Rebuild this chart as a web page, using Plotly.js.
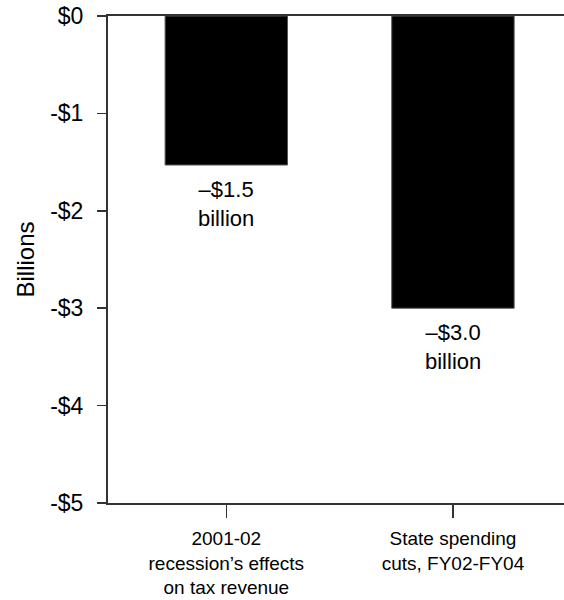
<!DOCTYPE html>
<html>
<head>
<meta charset="utf-8">
<script src="https://cdn.plot.ly/plotly-3.0.1.min.js"></script>
<style>html,body{margin:0;padding:0;background:#fff;}#chart{width:564px;height:600px;}</style>
</head>
<body>
<div id="chart"></div>
<script>
var categories = ["2001-02<br>recession\u2019s effects<br>on tax revenue", "State spending<br>cuts, FY02-FY04"];
var values = [-1.53, -3.0];
var tickVals = [0, -1, -2, -3, -4, -5];
var tickLabels = ["$0", "-$1", "-$2", "-$3", "-$4", "-$5"];

var fam = "Liberation Sans, Arial, sans-serif";

var annotations = values.map(function (v, i) {
  return {
    x: i, y: v, xref: "x", yref: "y",
    text: "\u2013$" + Math.abs(v).toFixed(1) + "<br>billion",
    showarrow: false, yanchor: "top", yshift: -10,
    font: {family: fam, size: 22, color: "#000"}
  };
});

var trace = {
  type: "bar",
  x: [0, 1],
  y: values,
  width: 0.54,
  marker: {color: "#000", line: {color: "#555", width: 1}},
  hoverinfo: "none"
};

var layout = {
  width: 564, height: 600,
  margin: {l: 108, r: 0, t: 16, b: 97},
  paper_bgcolor: "#fff", plot_bgcolor: "#fff",
  font: {family: fam, size: 19, color: "#000"},
  showlegend: false,
  xaxis: {
    range: [-0.522, 1.49],
    tickvals: [0, 1], ticktext: categories,
    ticks: "outside", ticklen: 13, tickwidth: 1.5, tickcolor: "#333",
    ticklabelstandoff: 4,
    showline: true, linecolor: "#333", linewidth: 2, mirror: true,
    showgrid: false, zeroline: false,
    tickfont: {family: fam, size: 19, color: "#000"}
  },
  yaxis: {
    range: [-5, 0],
    tickvals: tickVals, ticktext: tickLabels,
    ticks: "outside", ticklen: 9, tickwidth: 1.5, tickcolor: "#333",
    ticklabelstandoff: 9,
    showline: true, linecolor: "#333", linewidth: 2,
    showgrid: false, zeroline: false,
    tickfont: {family: fam, size: 23, color: "#000"},
    title: {text: "Billions", font: {family: fam, size: 24, color: "#000"}, standoff: 9}
  },
  annotations: annotations
};

Plotly.newPlot("chart", [trace], layout, {displayModeBar: false, staticPlot: true});
</script>
</body>
</html>
